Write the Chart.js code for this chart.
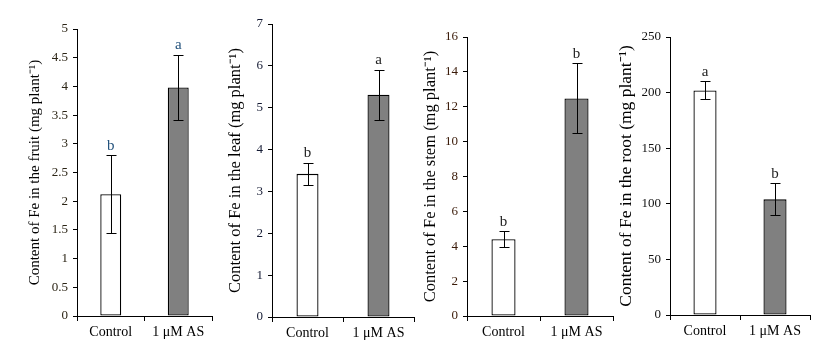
<!DOCTYPE html>
<html>
<head>
<meta charset="utf-8">
<script src="https://cdn.jsdelivr.net/npm/chart.js@4"></script>
<style>
  html, body { margin: 0; padding: 0; background: #fff; }
  #wrap { position: relative; width: 816px; height: 350px; background: #fff; overflow: hidden; }
  #wrap canvas { position: absolute; top: 0; }
</style>
</head>
<body>
<div id="wrap">
  <canvas id="c1"></canvas>
  <canvas id="c2"></canvas>
  <canvas id="c3"></canvas>
  <canvas id="c4"></canvas>
</div>
<script>
// ---- data ----
const categories = ['Control', '1 \u03BCM AS'];

const fruitMean = [2.12, 3.98];
const fruitErr = [0.68, 0.57];
const fruitLetters = ['b', 'a'];
const fruitTicks = { min: 0, max: 5, step: 0.5 };

const leafMean = [3.42, 5.31];
const leafErr = [0.26, 0.60];
const leafLetters = ['b', 'a'];
const leafTicks = { min: 0, max: 7, step: 1 };

const stemMean = [4.40, 12.48];
const stemErr = [0.46, 2.01];
const stemLetters = ['b', 'b'];
const stemTicks = { min: 0, max: 16, step: 2 };

const rootMean = [202, 104];
const rootErr = [8, 14.4];
const rootLetters = ['a', 'b'];
const rootTicks = { min: 0, max: 250, step: 50 };

const titles = [
  'Content of Fe in the fruit (mg plant\u207B\u00B9)',
  'Content of Fe in the leaf (mg plant\u207B\u00B9)',
  'Content of Fe in the stem (mg plant\u207B\u00B9)',
  'Content of Fe in the root (mg plant\u207B\u00B9)'
];

const barColors = ['#ffffff', '#808080'];
const FONT = "'Liberation Serif', 'Times New Roman', serif";

Chart.defaults.font.family = FONT;
Chart.defaults.color = '#111';

const errorBarPlugin = {
  id: 'errorBars',
  afterDatasetsDraw(chart, args, opts) {
    const ctx = chart.ctx;
    const y = chart.scales.y;
    const meta = chart.getDatasetMeta(0);
    const means = chart.data.datasets[0].data;
    ctx.save();
    ctx.strokeStyle = '#000';
    ctx.lineWidth = 1;
    meta.data.forEach((bar, i) => {
      const x = Math.round(bar.x) + 0.5;
      const hi = y.getPixelForValue(means[i] + opts.err[i]);
      const lo = y.getPixelForValue(means[i] - opts.err[i]);
      const cap = 5;
      ctx.beginPath();
      ctx.moveTo(x, Math.round(hi) + 0.5);
      ctx.lineTo(x, Math.round(lo) + 0.5);
      ctx.moveTo(x - cap, Math.round(hi) + 0.5);
      ctx.lineTo(x + cap, Math.round(hi) + 0.5);
      ctx.moveTo(x - cap, Math.round(lo) + 0.5);
      ctx.lineTo(x + cap, Math.round(lo) + 0.5);
      ctx.stroke();
      ctx.fillStyle = opts.letterColor;
      ctx.font = '15px ' + FONT;
      ctx.textAlign = 'center';
      ctx.textBaseline = 'bottom';
      ctx.fillText(opts.letters[i], bar.x, hi - 2);
    });
    ctx.restore();
  }
};

function fmt(v) { return String(Number(v.toFixed(3))); }

function makePanel(id, cfg) {
  const canvas = document.getElementById(id);
  canvas.width = cfg.width;
  canvas.height = 350;
  canvas.style.left = cfg.left + 'px';
  canvas.style.width = cfg.width + 'px';
  canvas.style.height = '350px';
  new Chart(canvas, {
    type: 'bar',
    data: {
      labels: categories,
      datasets: [{
        data: cfg.mean,
        backgroundColor: barColors,
        borderColor: '#000',
        borderWidth: 1.3,
        borderSkipped: false,
        inflateAmount: 0,
        barPercentage: cfg.barPct,
        categoryPercentage: 1
      }]
    },
    options: {
      responsive: false,
      animation: false,
      devicePixelRatio: 1,
      layout: { padding: { top: cfg.top, right: 2, bottom: 0, left: 0 } },
      plugins: {
        legend: { display: false },
        tooltip: { enabled: false },
        errorBars: { err: cfg.err, letters: cfg.letters, letterColor: cfg.letterColor }
      },
      scales: {
        x: {
          offset: true,
          grid: { display: true, offset: true, drawOnChartArea: false, drawTicks: true, tickLength: 5, color: '#000', lineWidth: 1 },
          border: { display: true, color: '#000', width: 1 },
          ticks: { color: '#000', font: { size: 14, family: FONT }, padding: 3, maxRotation: 0 },
          afterFit(s) { s.height = cfg.xH; }
        },
        y: {
          min: cfg.ticks.min,
          max: cfg.ticks.max,
          grid: { display: true, drawOnChartArea: false, drawTicks: true, tickLength: 4, color: '#000', lineWidth: 1 },
          border: { display: true, color: '#000', width: 1 },
          ticks: { stepSize: cfg.ticks.step, color: cfg.tickColor, font: { size: 13, family: FONT }, padding: 5,
                   callback: (v) => fmt(v) },
          title: {
            display: true,
            text: cfg.title,
            color: '#000',
            font: { size: cfg.titleSize, family: FONT },
            padding: { top: cfg.titlePad, bottom: 0 }
          },
          afterFit(s) { s.width = cfg.axisW; }
        }
      }
    },
    plugins: [errorBarPlugin]
  });
}

makePanel('c1', { left: 0, width: 214, axisW: 77, top: 29, xH: 34, mean: fruitMean, err: fruitErr, letters: fruitLetters,
  ticks: fruitTicks, title: titles[0], titleSize: 15, titlePad: 26, barPct: 0.31, tickColor: '#2b2415', letterColor: '#23527c' });
makePanel('c2', { left: 212, width: 204, axisW: 60, top: 24, xH: 33, mean: leafMean, err: leafErr, letters: leafLetters,
  ticks: leafTicks, title: titles[1], titleSize: 16.5, titlePad: 14, barPct: 0.31, tickColor: '#141a33', letterColor: '#222' });
makePanel('c3', { left: 414, width: 201, axisW: 53, top: 37, xH: 34, mean: stemMean, err: stemErr, letters: stemLetters,
  ticks: stemTicks, title: titles[2], titleSize: 16.5, titlePad: 7, barPct: 0.33, tickColor: '#3a1a08', letterColor: '#222' });
makePanel('c4', { left: 612, width: 200, axisW: 58, top: 37, xH: 35, mean: rootMean, err: rootErr, letters: rootLetters,
  ticks: rootTicks, title: titles[3], titleSize: 17.5, titlePad: 4, barPct: 0.33, tickColor: '#111', letterColor: '#222' });
</script>
</body>
</html>
